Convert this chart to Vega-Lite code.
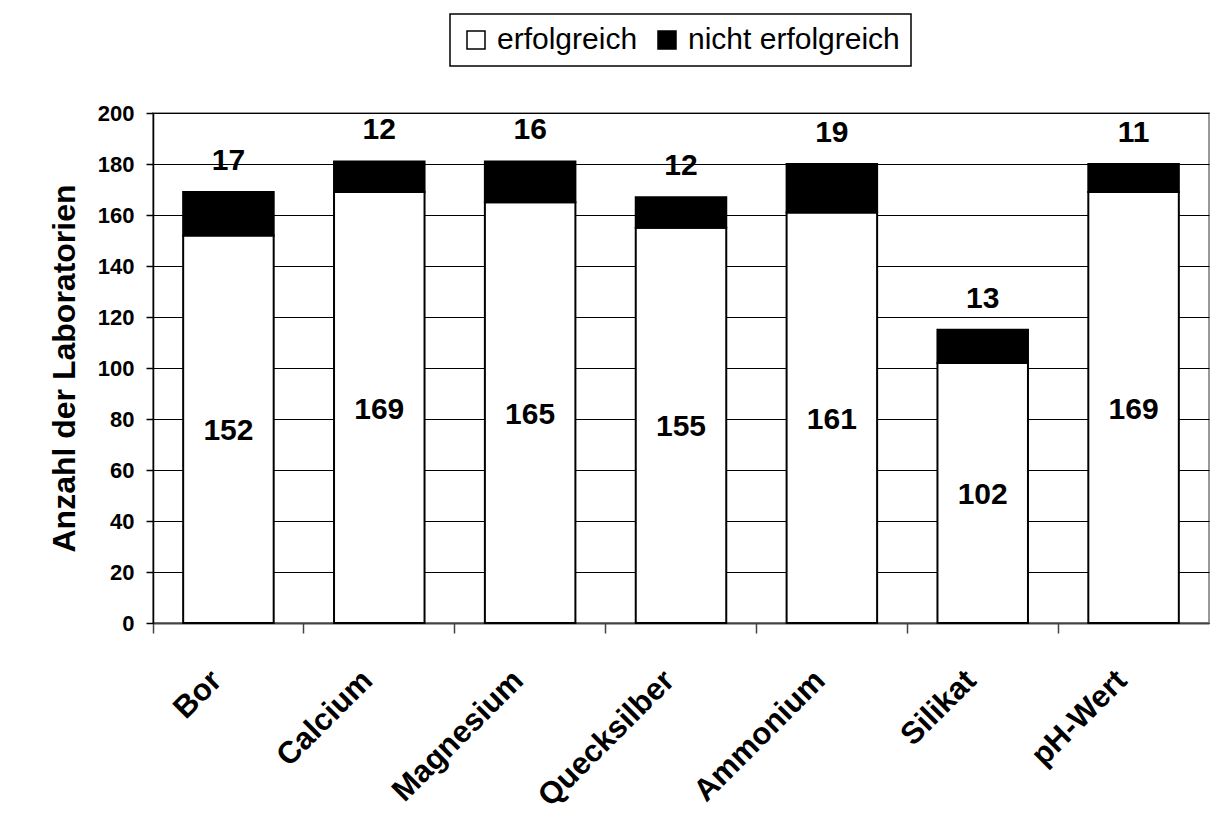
{
  "$schema": "https://vega.github.io/schema/vega-lite/v6.json",
  "width": 1056,
  "height": 510,
  "autosize": {"type": "none"},
  "padding": {"left": 153, "top": 113, "right": 19, "bottom": 211},
  "background": "white",
  "config": {
    "font": "Liberation Sans",
    "view": {"stroke": "#999999", "strokeWidth": 2},
    "legend": {"strokeWidth": 1.5}
  },
  "data": {
    "values": [
      {"Parameter": "Bor", "Status": "erfolgreich", "Anzahl": 152},
      {"Parameter": "Bor", "Status": "nicht erfolgreich", "Anzahl": 17},
      {"Parameter": "Calcium", "Status": "erfolgreich", "Anzahl": 169},
      {"Parameter": "Calcium", "Status": "nicht erfolgreich", "Anzahl": 12},
      {"Parameter": "Magnesium", "Status": "erfolgreich", "Anzahl": 165},
      {"Parameter": "Magnesium", "Status": "nicht erfolgreich", "Anzahl": 16},
      {"Parameter": "Quecksilber", "Status": "erfolgreich", "Anzahl": 155},
      {"Parameter": "Quecksilber", "Status": "nicht erfolgreich", "Anzahl": 12},
      {"Parameter": "Ammonium", "Status": "erfolgreich", "Anzahl": 161},
      {"Parameter": "Ammonium", "Status": "nicht erfolgreich", "Anzahl": 19},
      {"Parameter": "Silikat", "Status": "erfolgreich", "Anzahl": 102},
      {"Parameter": "Silikat", "Status": "nicht erfolgreich", "Anzahl": 13},
      {"Parameter": "pH-Wert", "Status": "erfolgreich", "Anzahl": 169},
      {"Parameter": "pH-Wert", "Status": "nicht erfolgreich", "Anzahl": 11}
    ]
  },
  "layer": [
    {
      "mark": {"type": "bar", "stroke": "black", "strokeWidth": 2},
      "encoding": {
        "x": {
          "field": "Parameter",
          "type": "nominal",
          "sort": ["Bor", "Calcium", "Magnesium", "Quecksilber", "Ammonium", "Silikat", "pH-Wert"],
          "scale": {"paddingInner": 0.4, "paddingOuter": 0.2},
          "axis": {
            "title": null,
            "labelAngle": -45,
            "labelFontSize": 31,
            "labelFontWeight": "bold",
            "labelColor": "black",
            "bandPosition": -0.3333,
            "labelOffset": -22,
            "labelPadding": 32,
            "labelLimit": 400,
            "tickSize": 10,
            "tickColor": "#444444",
            "tickWidth": 1.5,
            "domainColor": "#444444",
            "domainWidth": 2,
            "grid": false
          }
        },
        "y": {
          "field": "Anzahl",
          "type": "quantitative",
          "stack": "zero",
          "scale": {"domain": [0, 200], "nice": false},
          "axis": {
            "title": "Anzahl der Laboratorien",
            "values": [0, 20, 40, 60, 80, 100, 120, 140, 160, 180, 200],
            "grid": true,
            "gridColor": "black",
            "gridWidth": 1,
            "gridOpacity": 1,
            "tickSize": 7,
            "tickColor": "black",
            "tickWidth": 1.5,
            "domainColor": "black",
            "domainWidth": 1.5,
            "labelFontSize": 22,
            "labelFontWeight": "bold",
            "labelColor": "black",
            "labelPadding": 12,
            "titleFontSize": 32,
            "titleFontWeight": "bold",
            "titleColor": "black",
            "titlePadding": 16
          }
        },
        "fill": {
          "field": "Status",
          "type": "nominal",
          "scale": {"domain": ["erfolgreich", "nicht erfolgreich"], "range": ["white", "black"]},
          "legend": {
            "title": null,
            "orient": "none",
            "legendX": 297,
            "legendY": -99,
            "direction": "horizontal",
            "strokeColor": "black",
            "fillColor": "white",
            "padding": 11,
            "labelFontSize": 30,
            "labelColor": "black",
            "labelFont": "Liberation Sans",
            "labelLimit": 400,
            "symbolType": "square",
            "symbolSize": 324,
            "symbolStrokeColor": "black",
            "symbolStrokeWidth": 1.5,
            "labelOffset": 6,
            "columnPadding": 14
          }
        },
        "order": {"field": "Status", "sort": "ascending"}
      }
    },
    {
      "mark": {"type": "text", "fontSize": 30, "fontWeight": "bold", "dy": -31, "baseline": "middle", "color": "black"},
      "encoding": {
        "x": {
          "field": "Parameter",
          "type": "nominal",
          "sort": ["Bor", "Calcium", "Magnesium", "Quecksilber", "Ammonium", "Silikat", "pH-Wert"]
        },
        "y": {
          "field": "Anzahl",
          "type": "quantitative",
          "stack": "zero",
          "scale": {"domain": [0, 200], "nice": false},
          "axis": null
        },
        "detail": {"field": "Status"},
        "order": {"field": "Status", "sort": "ascending"},
        "text": {"field": "Anzahl", "type": "quantitative"},
        "opacity": {"condition": {"test": "datum.Status == 'erfolgreich'", "value": 0}, "value": 1}
      }
    },
    {
      "transform": [{"filter": "datum.Status == 'erfolgreich'"}],
      "mark": {"type": "text", "fontSize": 30, "fontWeight": "bold", "baseline": "middle", "dy": 2, "color": "black"},
      "encoding": {
        "x": {
          "field": "Parameter",
          "type": "nominal",
          "sort": ["Bor", "Calcium", "Magnesium", "Quecksilber", "Ammonium", "Silikat", "pH-Wert"]
        },
        "y": {
          "field": "Anzahl",
          "type": "quantitative",
          "scale": {"domain": [0, 400], "nice": false},
          "axis": null
        },
        "text": {"field": "Anzahl", "type": "quantitative"}
      }
    }
  ],
  "resolve": {"scale": {"y": "independent"}}
}
